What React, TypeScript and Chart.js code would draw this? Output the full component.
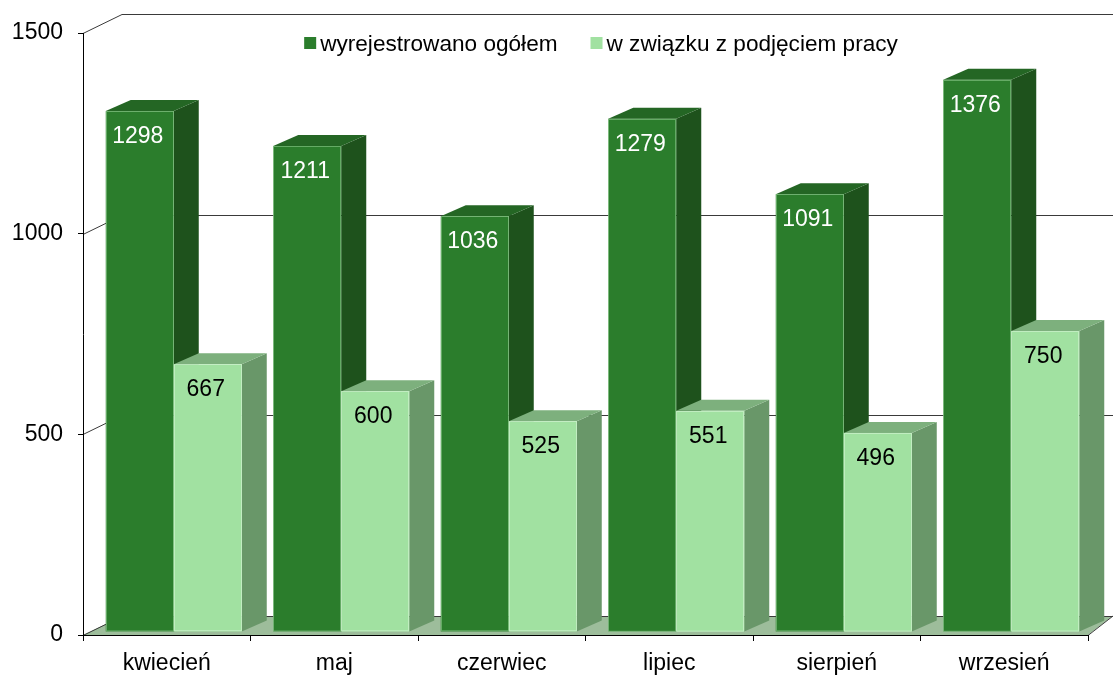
import React, { useEffect, useRef } from "react";
import { Chart, registerables } from "chart.js";

Chart.register(...registerables);

const categories = ["kwiecień", "maj", "czerwiec", "lipiec", "sierpień", "wrzesień"];
const seriesNames = ["wyrejestrowano ogółem", "w związku z podjęciem pracy"];
const totalValues = [1298, 1211, 1036, 1279, 1091, 1376];
const workValues = [667, 600, 525, 551, 496, 750];
const yTicks = [0, 500, 1000, 1500];

const FONT = "'Liberation Sans', Arial, sans-serif";

const palette = [
  { front: "#2b7d2c", side: "#1e521c", top: "#246624", edge: "rgba(150,210,150,0.55)", label: "#ffffff" },
  { front: "#a1e1a1", side: "#699769", top: "#7db07d", edge: "rgba(200,240,200,0.8)", label: "#000000" },
];

const WALL_DX = 39;
const WALL_DY = -19;
const BAR_DX = 25;
const BAR_DY = -11;
const SHIFT_X = 7;
const SHIFT_Y = -3;

const threeD = {
  id: "threeD",
  beforeDraw(chart: any) {
    const { ctx, chartArea, scales } = chart;
    const y = scales.y;
    const L = chartArea.left;
    const R = chartArea.right;
    const backL = L + WALL_DX;
    const backR = chart.width + 2;
    const y0 = y.getPixelForValue(0);
    ctx.save();
    ctx.fillStyle = "#9dbd9b";
    ctx.beginPath();
    ctx.moveTo(L, y0);
    ctx.lineTo(R, y0);
    ctx.lineTo(backR - 2, y0 + WALL_DY);
    ctx.lineTo(backR, y0 + WALL_DY);
    ctx.lineTo(backL, y0 + WALL_DY);
    ctx.closePath();
    ctx.fill();
    ctx.strokeStyle = "#404040";
    ctx.lineWidth = 1;
    ctx.beginPath();
    ctx.moveTo(R, y0 + 0.5);
    ctx.lineTo(chart.width, y0 + WALL_DY);
    ctx.stroke();
    ctx.strokeStyle = "#3a3a3a";
    for (const v of yTicks) {
      const py = Math.round(y.getPixelForValue(v)) + 0.5;
      ctx.beginPath();
      ctx.moveTo(L, py);
      ctx.lineTo(backL, py + WALL_DY);
      ctx.lineTo(backR, py + WALL_DY);
      ctx.stroke();
    }
    ctx.restore();
  },
  beforeDatasetsDraw(chart: any) {
    const { ctx } = chart;
    const metas = chart.data.datasets.map((_: any, i: number) => chart.getDatasetMeta(i));
    const boxes: any[] = [];
    ctx.save();
    for (let c = 0; c < categories.length; c++) {
      metas.forEach((meta: any, d: number) => {
        const el = meta.data[c];
        const p = el.getProps(["x", "y", "base", "width"], true);
        const l = p.x - p.width / 2 + SHIFT_X;
        const r = p.x + p.width / 2 + SHIFT_X;
        const t = p.y + SHIFT_Y;
        const b = p.base + SHIFT_Y;
        const col = palette[d];
        ctx.fillStyle = col.side;
        ctx.beginPath();
        ctx.moveTo(r, t);
        ctx.lineTo(r + BAR_DX, t + BAR_DY);
        ctx.lineTo(r + BAR_DX, b + BAR_DY);
        ctx.lineTo(r, b);
        ctx.closePath();
        ctx.fill();
        ctx.fillStyle = col.top;
        ctx.beginPath();
        ctx.moveTo(l, t);
        ctx.lineTo(r, t);
        ctx.lineTo(r + BAR_DX, t + BAR_DY);
        ctx.lineTo(l + BAR_DX, t + BAR_DY);
        ctx.closePath();
        ctx.fill();
        ctx.fillStyle = col.front;
        ctx.fillRect(l, t, r - l, b - t);
        ctx.strokeStyle = col.edge;
        ctx.lineWidth = 1;
        ctx.strokeRect(Math.round(l) + 0.5, Math.round(t) + 0.5, r - l - 1, b - t - 1);
        boxes.push({ l, r, t, d, v: chart.data.datasets[d].data[c] });
      });
    }
    ctx.font = `23px ${FONT}`;
    ctx.textAlign = "center";
    ctx.textBaseline = "alphabetic";
    for (const bx of boxes) {
      ctx.fillStyle = palette[bx.d].label;
      ctx.fillText(String(bx.v), (bx.l + bx.r) / 2 - 2, bx.t + 32);
    }
    ctx.restore();
    return false;
  },
  afterDraw(chart: any) {
    const { ctx } = chart;
    ctx.save();
    ctx.font = `22.6px ${FONT}`;
    ctx.textBaseline = "alphabetic";
    ctx.textAlign = "left";
    const box = 12;
    const gapText = 4;
    const gapItem = 33;
    const widths = seriesNames.map((n) => ctx.measureText(n).width);
    const total = widths.reduce((a, w) => a + box + gapText + w, 0) + gapItem * (seriesNames.length - 1);
    let x = 601 - total / 2;
    seriesNames.forEach((n, i) => {
      ctx.fillStyle = palette[i].front;
      ctx.fillRect(x, 37, box, box);
      ctx.fillStyle = "#000000";
      ctx.fillText(n, x + box + gapText, 51);
      x += box + gapText + widths[i] + gapItem;
    });
    ctx.restore();
  },
};

export default function App() {
  const ref = useRef<HTMLCanvasElement | null>(null);
  useEffect(() => {
    if (!ref.current) return;
    const chart = new Chart(ref.current, {
      type: "bar",
      data: {
        labels: categories,
        datasets: [
          { label: seriesNames[0], data: totalValues, backgroundColor: palette[0].front },
          { label: seriesNames[1], data: workValues, backgroundColor: palette[1].front },
        ],
      },
      options: {
        responsive: false,
        animation: false,
        devicePixelRatio: 1,
        layout: { padding: { top: 33, right: 25, left: 0, bottom: 0 } },
        datasets: { bar: { categoryPercentage: 0.812, barPercentage: 1 } },
        plugins: { legend: { display: false }, tooltip: { enabled: false } },
        scales: {
          x: {
            afterFit: (s: any) => {
              s.height = 40;
            },
            grid: { drawOnChartArea: false, tickLength: 6, tickColor: "#000000", offset: true },
            border: { color: "#000000", width: 1 },
            ticks: { color: "#000000", font: { family: FONT, size: 23 }, padding: 9, maxRotation: 0 },
          },
          y: {
            min: 0,
            max: 1500,
            afterFit: (s: any) => {
              s.width = 83;
            },
            afterBuildTicks: (s: any) => {
              s.ticks = yTicks.map((v) => ({ value: v }));
            },
            grid: { drawOnChartArea: false, tickLength: 5, tickColor: "#000000" },
            border: { color: "#000000", width: 1 },
            ticks: {
              color: "#000000",
              font: { family: FONT, size: 23 },
              padding: 15,
              callback: (v: any) => String(v),
            },
          },
        },
      },
      plugins: [threeD],
    } as any);
    return () => chart.destroy();
  }, []);
  return (
    <div style={{ position: "absolute", left: 0, top: 0, width: 1113, height: 675, background: "#ffffff" }}>
      <canvas ref={ref} width={1113} height={675} />
    </div>
  );
}
